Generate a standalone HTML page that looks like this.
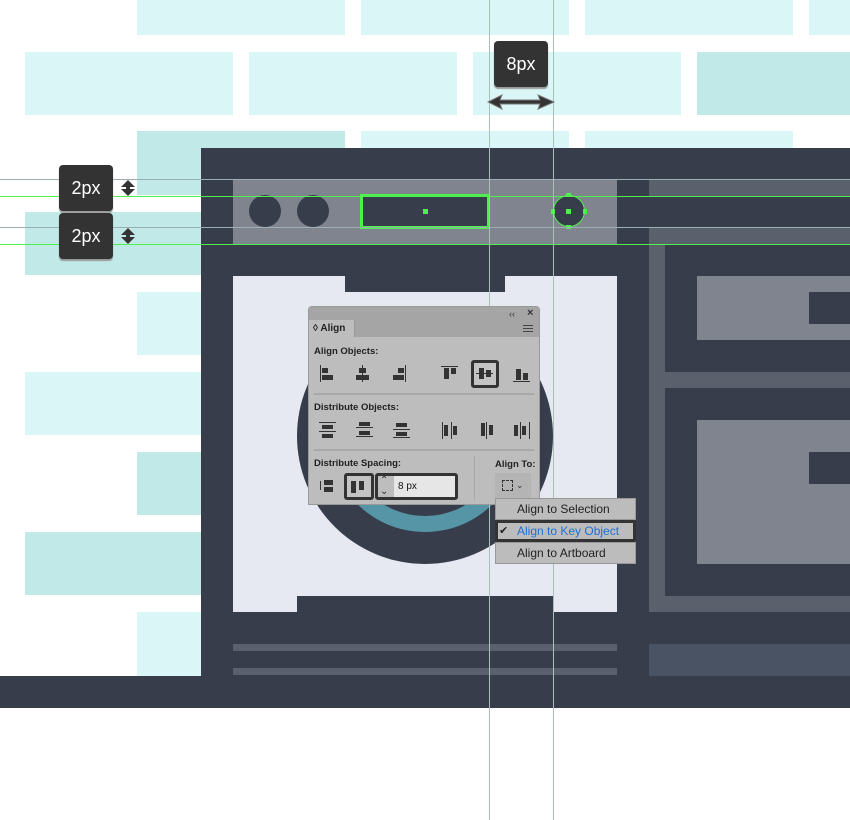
<!DOCTYPE html>
<html><head><meta charset="utf-8"><style>
body{margin:0;width:850px;height:820px;position:relative;overflow:hidden;background:#fff;font-family:"Liberation Sans",sans-serif}
div{position:absolute;box-sizing:border-box}
.l{background:#dbf6f6}.d{background:#c0e9e8}
.k{background:#383d4c}.g{background:#80848e}.f{background:#5a606c}
.tip{background:#333;border-radius:4px;color:#fff;font-size:18px;text-align:center;line-height:46px;box-shadow:0 2px 1px #999}
.t{font-size:9.5px;color:#222;font-weight:bold;white-space:nowrap}
.ic{background:#333}
.mi{left:0;width:141px;height:22px;background:#bcbcbc;border:1px solid #999;font-size:12px;color:#222;padding-left:21px;line-height:20px}
</style></head><body>
<div class="l" style="left:137px;top:0;width:208px;height:35px"></div>
<div class="l" style="left:361px;top:0;width:208px;height:35px"></div>
<div class="l" style="left:585px;top:0;width:208px;height:35px"></div>
<div class="l" style="left:809px;top:0;width:41px;height:35px"></div>
<div class="l" style="left:25px;top:52px;width:208px;height:63px"></div>
<div class="l" style="left:249px;top:52px;width:208px;height:63px"></div>
<div class="l" style="left:473px;top:52px;width:208px;height:63px"></div>
<div class="d" style="left:697px;top:52px;width:153px;height:63px"></div>
<div class="d" style="left:137px;top:131px;width:208px;height:64px"></div>
<div class="l" style="left:361px;top:131px;width:208px;height:17px"></div>
<div class="l" style="left:585px;top:131px;width:208px;height:17px"></div>
<div class="d" style="left:25px;top:212px;width:208px;height:63px"></div>
<div class="l" style="left:137px;top:292px;width:64px;height:63px"></div>
<div class="l" style="left:25px;top:372px;width:176px;height:63px"></div>
<div class="d" style="left:137px;top:452px;width:64px;height:63px"></div>
<div class="d" style="left:25px;top:532px;width:176px;height:63px"></div>
<div class="l" style="left:137px;top:612px;width:64px;height:64px"></div>
<div class="k" style="left:201px;top:148px;width:649px;height:560px"></div>
<div class="k" style="left:0;top:676px;width:850px;height:32px"></div>
<div class="g" style="left:233px;top:180px;width:384px;height:64px"></div>
<div class="k" style="left:249px;top:195px;width:32px;height:32px;border-radius:50%"></div>
<div class="k" style="left:297px;top:195px;width:32px;height:32px;border-radius:50%"></div>
<div class="k" style="left:360px;top:194px;width:130px;height:35px;border:3px solid #4ef04e"></div>
<div style="left:423px;top:209px;width:5px;height:5px;background:#4ef04e"></div>
<div class="k" style="left:553px;top:195px;width:32px;height:32px;border-radius:50%;border:1.5px solid #4ef04e"></div>
<div style="left:566px;top:209px;width:5px;height:5px;background:#4ef04e"></div>
<div style="left:566px;top:193px;width:5px;height:4px;background:#4ef04e"></div>
<div style="left:566px;top:225px;width:5px;height:4px;background:#4ef04e"></div>
<div style="left:551px;top:209px;width:4px;height:5px;background:#4ef04e"></div>
<div style="left:583px;top:209px;width:4px;height:5px;background:#4ef04e"></div>
<div style="left:233px;top:276px;width:384px;height:336px;background:#e6e9f2;overflow:hidden">
  <div style="left:64px;top:32px;width:256px;height:256px;border-radius:50%;background:#383d4c"></div>
  <div style="left:96px;top:64px;width:192px;height:192px;border-radius:50%;background:#5595a5"></div>
  <div style="left:112px;top:80px;width:160px;height:160px;border-radius:50%;background:#383d4c"></div>
</div>
<div class="k" style="left:345px;top:276px;width:160px;height:16px"></div>
<div class="k" style="left:297px;top:596px;width:256px;height:16px"></div>
<div class="f" style="left:233px;top:644px;width:384px;height:7px"></div>
<div class="f" style="left:233px;top:668px;width:384px;height:7px"></div>
<div class="f" style="left:649px;top:180px;width:201px;height:16px"></div>
<div class="f" style="left:649px;top:228px;width:201px;height:384px"></div>
<div class="k" style="left:665px;top:244px;width:185px;height:128px"></div>
<div class="k" style="left:665px;top:388px;width:185px;height:208px"></div>
<div class="g" style="left:697px;top:276px;width:153px;height:64px"></div>
<div class="k" style="left:809px;top:292px;width:41px;height:32px"></div>
<div class="g" style="left:697px;top:420px;width:153px;height:144px"></div>
<div class="k" style="left:809px;top:452px;width:41px;height:32px"></div>
<div style="left:649px;top:644px;width:201px;height:32px;background:#4a5363"></div>
<div style="left:0;top:179px;width:850px;height:1px;background:#9ab0b0"></div>
<div style="left:0;top:196px;width:850px;height:1px;background:#4ef04e"></div>
<div style="left:0;top:227px;width:850px;height:1px;background:#9ab0b0"></div>
<div style="left:0;top:244px;width:850px;height:1px;background:#4ef04e"></div>
<div style="left:489px;top:0;width:1px;height:820px;background:#a8c0b8"></div>
<div style="left:553px;top:0;width:1px;height:820px;background:#a8c0b8"></div>
<div class="tip" style="left:494px;top:41px;width:54px;height:46px">8px</div>
<svg style="position:absolute;left:486px;top:94px" width="70" height="16"><path d="M2 8 L16 1 L14 6 L54 6 L52 1 L68 8 L52 15 L54 10 L14 10 L16 15Z" fill="#333" stroke="#777" stroke-width="1"/></svg>
<div class="tip" style="left:59px;top:165px;width:54px;height:46px">2px</div>
<div class="tip" style="left:59px;top:213px;width:54px;height:46px">2px</div>
<svg style="position:absolute;left:120px;top:179px" width="16" height="18"><path d="M8 1 L15 8 L10 8 L10 10 L15 10 L8 17 L1 10 L6 10 L6 8 L1 8Z" fill="#333"/></svg>
<svg style="position:absolute;left:120px;top:227px" width="16" height="18"><path d="M8 1 L15 8 L10 8 L10 10 L15 10 L8 17 L1 10 L6 10 L6 8 L1 8Z" fill="#333"/></svg>
<div style="left:308px;top:306px;width:232px;height:199px;background:#bdbdbd;border:1px solid #999;border-radius:4px 4px 0 0">
  <div style="left:0;top:0;width:230px;height:30px;background:#a5a5a5;border-radius:4px 4px 0 0"></div>
  <div style="left:200px;top:2px;font-size:9px;color:#333">‹‹</div>
  <div style="left:218px;top:0px;font-size:11px;color:#333;font-weight:bold">×</div>
  <div style="left:0;top:13px;width:46px;height:17px;background:#bdbdbd;border-right:1px solid #999"></div>
  <div class="t" style="left:4px;top:16px;font-size:10px">◊ Align</div>
  <div style="left:214px;top:18px;width:10px;height:7px;border-top:1px solid #444;border-bottom:1px solid #444"><div style="left:0;top:2px;width:10px;height:1px;background:#444"></div></div>
  <div class="t" style="left:5px;top:39px">Align Objects:</div>
  <div class="t" style="left:5px;top:95px">Distribute Objects:</div>
  <div class="t" style="left:5px;top:151px">Distribute Spacing:</div>
  <div class="t" style="left:186px;top:152px">Align To:</div>
  <div style="left:5px;top:86px;width:220px;height:2px;background:#a8a8a8"></div>
  <div style="left:5px;top:142px;width:220px;height:2px;background:#a8a8a8"></div>
  <div style="left:165px;top:149px;width:1px;height:44px;background:#a8a8a8"></div>
  <div class="ic" style="left:11px;top:58px;width:1px;height:17px"></div><div class="ic" style="left:13px;top:61px;width:6px;height:5px"></div><div class="ic" style="left:13px;top:68px;width:11px;height:5px"></div>
  <div class="ic" style="left:53px;top:58px;width:1px;height:17px"></div><div class="ic" style="left:50px;top:61px;width:7px;height:5px"></div><div class="ic" style="left:47px;top:68px;width:13px;height:5px"></div>
  <div class="ic" style="left:96px;top:58px;width:1px;height:17px"></div><div class="ic" style="left:89px;top:61px;width:6px;height:5px"></div><div class="ic" style="left:84px;top:68px;width:11px;height:5px"></div>
  <div class="ic" style="left:132px;top:59px;width:17px;height:1px"></div><div class="ic" style="left:135px;top:61px;width:5px;height:11px"></div><div class="ic" style="left:142px;top:61px;width:5px;height:6px"></div>
  <div style="left:162px;top:53px;width:28px;height:28px;border:3px solid #333;border-radius:3px;background:#c4c4c4"></div>
  <div class="ic" style="left:167px;top:66px;width:17px;height:1px"></div><div class="ic" style="left:170px;top:61px;width:5px;height:11px"></div><div class="ic" style="left:177px;top:63px;width:5px;height:7px"></div>
  <div class="ic" style="left:204px;top:74px;width:17px;height:1px"></div><div class="ic" style="left:207px;top:62px;width:5px;height:11px"></div><div class="ic" style="left:214px;top:66px;width:5px;height:7px"></div>
  <div class="ic" style="left:10px;top:115px;width:17px;height:1px"></div><div class="ic" style="left:13px;top:118px;width:11px;height:4px"></div><div class="ic" style="left:10px;top:124px;width:17px;height:1px"></div><div class="ic" style="left:13px;top:127px;width:11px;height:4px"></div>
  <div class="ic" style="left:47px;top:120px;width:17px;height:1px"></div><div class="ic" style="left:50px;top:115px;width:11px;height:4px"></div><div class="ic" style="left:47px;top:129px;width:17px;height:1px"></div><div class="ic" style="left:50px;top:124px;width:11px;height:4px"></div>
  <div class="ic" style="left:84px;top:122px;width:17px;height:1px"></div><div class="ic" style="left:87px;top:116px;width:11px;height:4px"></div><div class="ic" style="left:84px;top:130px;width:17px;height:1px"></div><div class="ic" style="left:87px;top:125px;width:11px;height:4px"></div>
  <div class="ic" style="left:133px;top:115px;width:1px;height:17px"></div><div class="ic" style="left:135px;top:118px;width:4px;height:11px"></div><div class="ic" style="left:142px;top:115px;width:1px;height:17px"></div><div class="ic" style="left:144px;top:119px;width:4px;height:9px"></div>
  <div class="ic" style="left:172px;top:116px;width:4px;height:13px"></div><div class="ic" style="left:177px;top:115px;width:1px;height:17px"></div><div class="ic" style="left:180px;top:118px;width:4px;height:10px"></div>
  <div class="ic" style="left:205px;top:118px;width:4px;height:11px"></div><div class="ic" style="left:211px;top:115px;width:1px;height:17px"></div><div class="ic" style="left:213px;top:119px;width:4px;height:9px"></div><div class="ic" style="left:220px;top:115px;width:1px;height:17px"></div>
  <div class="ic" style="left:15px;top:173px;width:9px;height:5px"></div><div class="ic" style="left:15px;top:180px;width:9px;height:5px"></div><div class="ic" style="left:11px;top:174px;width:1px;height:9px"></div>
  <div style="left:35px;top:166px;width:30px;height:27px;border:3px solid #333;border-radius:3px;background:#c4c4c4"></div>
  <div class="ic" style="left:42px;top:174px;width:5px;height:12px"></div><div class="ic" style="left:50px;top:174px;width:5px;height:9px"></div>
  <div style="left:66px;top:166px;width:83px;height:27px;border:3px solid #333;border-radius:3px;background:#bdbdbd"></div>
  <div style="left:85px;top:169px;width:61px;height:21px;background:#e6e6e6"></div>
  <div style="left:71px;top:168px;font-size:10px;color:#333;line-height:11px">⌃<br>⌄</div>
  <div style="left:89px;top:174px;font-size:10px;color:#111">8 px</div>
  <div style="left:186px;top:166px;width:36px;height:26px;background:#b4b4b4;border-radius:2px"></div>
  <div style="left:193px;top:173px;width:11px;height:11px;border:1px dashed #333"></div>
  <div style="left:207px;top:173px;font-size:9px;color:#333">⌄</div>
</div>
<div style="left:495px;top:498px;width:141px;height:66px">
  <div class="mi" style="top:0">Align to Selection</div>
  <div class="mi" style="top:22px;border:3px solid #333;border-radius:2px;color:#1f6fd8;line-height:16px;padding-left:19px">Align to Key Object</div>
  <div style="left:4px;top:26px;font-size:11px;color:#222">✔</div>
  <div class="mi" style="top:44px">Align to Artboard</div>
</div>
</body></html>
